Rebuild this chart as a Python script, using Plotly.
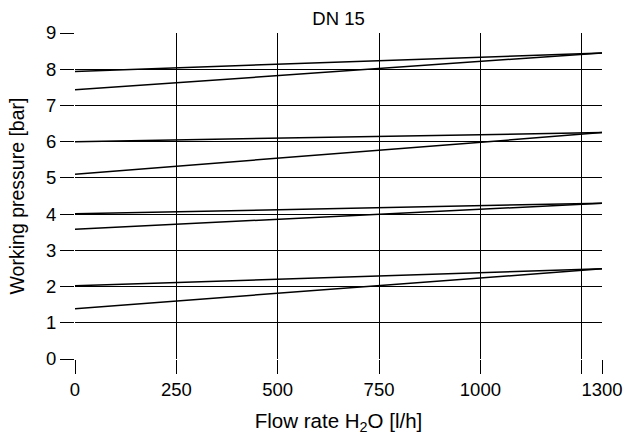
import plotly.graph_objects as go

# Flow rate endpoints [l/h]
flow = [0, 1300]
# Working pressure lines [bar] (start at 0 l/h, end at 1300 l/h)
series = {
    "8 bar upper": [7.94, 8.45],
    "8 bar lower": [7.43, 8.45],
    "6 bar upper": [6.00, 6.25],
    "6 bar lower": [5.10, 6.25],
    "4 bar upper": [4.01, 4.30],
    "4 bar lower": [3.58, 4.30],
    "2 bar upper": [2.02, 2.49],
    "2 bar lower": [1.39, 2.49],
}
x_tickvals = [0, 250, 500, 750, 1000, 1250, 1300]
x_ticktext = ["0", "250", "500", "750", "1000", "", "1300"]
y_tickvals = list(range(0, 10))

fig = go.Figure()
for name, ys in series.items():
    fig.add_trace(go.Scatter(x=flow, y=ys, mode="lines", name=name,
                             line=dict(color="black", width=1.5),
                             showlegend=False, hoverinfo="skip"))

font = dict(family="Liberation Sans, Arial, sans-serif", color="black")
fig.update_layout(
    width=624, height=437,
    margin=dict(l=75, r=22, t=33, b=78),
    paper_bgcolor="white", plot_bgcolor="white",
    font=dict(size=18, **font),
    title=dict(text="DN 15", x=0.5425, xanchor="center", y=0.9565, yanchor="middle",
               font=dict(size=18.5, **font)),
)
fig.update_xaxes(
    range=[0, 1300], tickvals=x_tickvals, ticktext=x_ticktext,
    showgrid=True, gridcolor="black", gridwidth=1,
    ticks="outside", ticklen=14, tickcolor="black", tickwidth=1,
    zeroline=False, showline=False, automargin=False,
    tickfont=dict(size=18.5, **font),
    title=dict(text="Flow rate H<sub>2</sub>O [l/h]", font=dict(size=20.5, **font), standoff=14),
)
fig.update_yaxes(
    range=[0, 9], tickvals=y_tickvals,
    showgrid=True, gridcolor="black", gridwidth=1,
    ticks="outside", ticklen=14, tickcolor="black", tickwidth=1,
    zeroline=False, showline=False, automargin=False,
    tickfont=dict(size=18.5, **font),
    title=dict(text="Working pressure [bar]", font=dict(size=19.5, **font), standoff=16),
)
fig.write_html("out.html")
